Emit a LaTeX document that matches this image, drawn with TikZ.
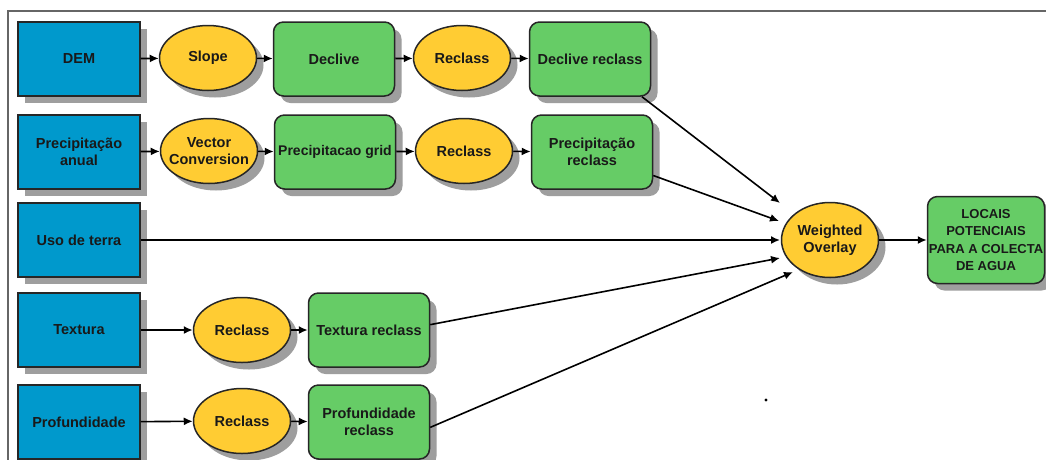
\documentclass[tikz,border=0pt]{standalone}
\usepackage{fontspec}
\setmainfont{Liberation Sans}
\usetikzlibrary{shadows,arrows.meta,shapes.geometric}

\definecolor{rasterblue}{RGB}{0,153,204}
\definecolor{toolyellow}{RGB}{255,204,51}
\definecolor{outgreen}{RGB}{102,204,102}

\tikzset{
    box/.style={draw=black!85, line width=1.5pt, align=center, inner sep=0pt,
        font=\fontsize{14.5}{17.5}\selectfont\bfseries, text=black!90,
        drop shadow={shadow xshift=7pt, shadow yshift=-7pt, fill=black!38, opacity=1}},
    inputbox/.style={box, rectangle, fill=rasterblue, minimum width=122pt, minimum height=74pt},
    toolbox/.style={box, ellipse, inner sep=-16pt, fill=toolyellow, minimum width=97pt, minimum height=65pt},
    outbox/.style={box, rectangle, rounded corners=10pt, fill=outgreen, minimum width=121pt, minimum height=74pt},
    flow/.style={line width=1.6pt, -{Latex[length=9pt,width=8pt]}}
}

\begin{document}
\begin{tikzpicture}[x=1pt, y=-1pt]
    \useasboundingbox (0,0) rectangle (1046,459);
    \fill[white] (0,0) rectangle (1046,459);
    % frame
    \draw[black!60, line width=1.8pt] (8,470) -- (8,11) -- (1060,11);

    % row 1
    \node[inputbox] (dem) at (79,59) {DEM};
    \node[toolbox] (slope) at (208,58) {Slope};
    \node[outbox] (declive) at (334,59) {Declive};
    \node[toolbox] (rcl1) at (462,58) {Reclass};
    \node[outbox] (declrcl) at (590,59) {Declive reclass};

    % row 2
    \node[inputbox] (prec) at (79,152) {Precipitação\\anual};
    \node[toolbox] (vconv) at (209,151) {Vector\\Conversion};
    \node[outbox] (precgrid) at (335,152) {\fontsize{14}{17.5}\selectfont Precipitacao grid};
    \node[toolbox] (rcl2) at (464,151) {Reclass};
    \node[outbox] (precrcl) at (592,152) {Precipitação\\reclass};

    % row 3
    \node[inputbox] (uso) at (79,240) {Uso de terra};

    % row 4
    \node[inputbox] (text) at (79,330) {Textura};
    \node[toolbox] (rcl3) at (242,330) {Reclass};
    \node[outbox] (textrcl) at (369,330) {Textura reclass};

    % row 5
    \node[inputbox] (prof) at (79,422) {Profundidade};
    \node[toolbox] (rcl4) at (242,421) {Reclass};
    \node[outbox] (profrcl) at (369,422) {Profundidade\\reclass};

    % overlay and result
    \node[toolbox, minimum height=75pt] (wover) at (830,240) {Weighted\\Overlay};
    \node[outbox, minimum width=117pt, minimum height=87pt,
        font=\fontsize{13}{17.5}\selectfont\bfseries] (locais) at (986,240)
        {LOCAIS\\POTENCIAIS\\PARA A COLECTA\\DE AGUA};

    \coordinate (in1) at (780,203);
    \coordinate (in2) at (779,221);
    \coordinate (in3) at (780,240);
    \coordinate (in4) at (780,258);
    \coordinate (in5) at (793,272);

    % connectors
    \draw[flow] (dem) -- (slope);
    \draw[flow] (slope) -- (declive);
    \draw[flow] (declive) -- (rcl1);
    \draw[flow] (rcl1) -- (declrcl);
    \draw[flow] (prec) -- (vconv);
    \draw[flow] (vconv) -- (precgrid);
    \draw[flow] (precgrid) -- (rcl2);
    \draw[flow] (rcl2) -- (precrcl);
    \draw[flow] (text) -- (rcl3);
    \draw[flow] (rcl3) -- (textrcl);
    \draw[flow] (prof) -- (rcl4);
    \draw[flow] (rcl4) -- (profrcl);

    \draw[flow] (declrcl.-36) -- (in1);
    \draw[flow] (precrcl.-21) -- (in2);
    \draw[flow] (uso.east) -- (in3);
    \draw[flow] (textrcl.5) -- (in4);
    \draw[flow] (profrcl.-5) -- (in5);
    \draw[flow] (wover) -- (locais);

    \fill (766,400) circle (1.6pt);
\end{tikzpicture}
\end{document}
